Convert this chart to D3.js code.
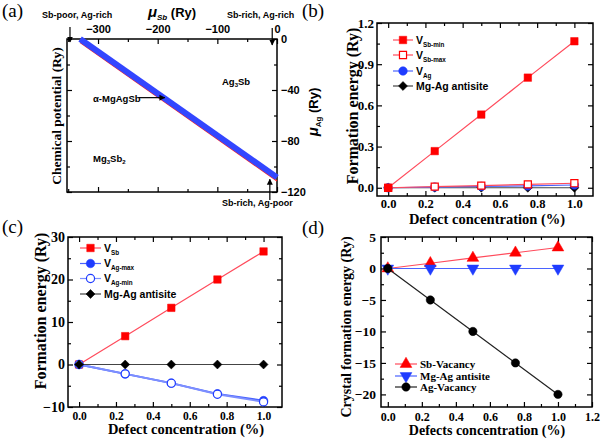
<!DOCTYPE html>
<html>
<head>
<meta charset="utf-8">
<script src="https://cdn.jsdelivr.net/npm/d3@7"></script>
<style>
  body { margin: 0; background: #fff; }
  svg { display: block; }
</style>
</head>
<body>
<div id="chart"></div>
<script>
// (a) chemical potential line, mu_Sb vs mu_Ag (Ry)
const bandMuSb = [-330, 0]
const bandMuAg = [0, -108.5]
const aXTicks = [-300, -200, -100, 0]
const aXMinor = [-350, -250, -150, -50]
const aYTicks = [0, -40, -80, -120]
const aYMinor = [-20, -60, -100]

// defect concentration (%) shared by b, c, d
const conc = [0, 0.25, 0.5, 0.75, 1.0]

// (b) formation energy (Ry)
const bVSbMin = [0, 0.267, 0.533, 0.802, 1.067]
const bVSbMax = [0, 0.008, 0.016, 0.025, 0.033]
const bVAg = [0, 0.005, 0.01, 0.014, 0.02]
const bAntisite = [0, 0, 0, 0, 0]
const bYTicks = [0, 0.3, 0.6, 0.9, 1.2]

// (c) formation energy (Ry)
const cVSb = [0, 6.67, 13.33, 20.0, 26.6]
const cVAgMax = [0, -2.2, -4.4, -6.9, -8.5]
const cVAgMin = [0, -2.2, -4.4, -7.0, -8.8]
const cAntisite = [0, 0, 0, 0, 0]
const cYTicks = [-10, 0, 10, 20, 30]

// (d) crystal formation energy (Ry)
const dSbVac = [0, 0.83, 1.67, 2.5, 3.33]
const dAntisite = [0, 0, 0, 0, 0]
const dAgVac = [0, -5, -10, -15, -20]
const dYTicks = [-20, -15, -10, -5, 0, 5]

const xTicks1 = [0, 0.2, 0.4, 0.6, 0.8, 1.0]
const xTicks12 = [0, 0.2, 0.4, 0.6, 0.8, 1.0, 1.2]

const SERIF = "'Liberation Serif','Times New Roman',serif"
const SANS = "'Liberation Sans',Arial,sans-serif"
const RED = "#ff0000", RED_LINE = "#ff4b5c"
const BLUE = "#1f3cff", BLUE_LINE = "#4a63ff"

const svg = d3.select("#chart").append("svg").attr("width", 602).attr("height", 443)

const minorOf = (ticks) => {
  const out = []
  for (let i = 0; i < ticks.length - 1; i++) out.push((ticks[i] + ticks[i + 1]) / 2)
  return out
}

// box with inward ticks on all four sides
function drawFrame(x, y, opt) {
  const [x0, x1] = x.range()
  const [y0, y1] = y.range()
  const g = svg.append("g")
  const sides = [
    { axis: d3.axisBottom, scale: x, t: `translate(0,${y0})`, pos: "bottom" },
    { axis: d3.axisTop, scale: x, t: `translate(0,${y1})`, pos: "top" },
    { axis: d3.axisLeft, scale: y, t: `translate(${x0},0)`, pos: "left" },
    { axis: d3.axisRight, scale: y, t: `translate(${x1},0)`, pos: "right" }
  ]
  sides.forEach((s) => {
    const isX = s.pos === "bottom" || s.pos === "top"
    const major = isX ? opt.xMajor : opt.yMajor
    const minor = isX ? opt.xMinor : opt.yMinor
    const labeled = opt.labelSides.includes(s.pos)
    const fmt = isX ? opt.xFmt : opt.yFmt
    g.append("g").attr("transform", s.t)
      .call(s.axis(s.scale).tickValues(minor).tickSize(-3).tickFormat(""))
      .call((a) => a.select(".domain").remove())
    const ax = g.append("g").attr("transform", s.t)
      .call(s.axis(s.scale).tickValues(major).tickSize(-5)
        .tickPadding(labeled ? (isX ? opt.xPad : opt.yPad) : 0)
        .tickFormat(labeled ? fmt : ""))
    ax.select(".domain").remove()
    ax.selectAll("text")
      .attr("font-family", opt.font).attr("font-size", isX ? opt.xSize : opt.ySize)
      .attr("font-weight", "bold").attr("fill", "#000")
  })
  g.selectAll("line").attr("stroke", "#000").attr("stroke-width", 1.2)
  g.append("rect")
    .attr("x", x0).attr("y", y1).attr("width", x1 - x0).attr("height", y0 - y1)
    .attr("fill", "none").attr("stroke", "#000").attr("stroke-width", 1.5)
}

function symbolPath(kind, size) {
  const t = { square: d3.symbolSquare, circle: d3.symbolCircle, diamond: d3.symbolSquare, up: d3.symbolTriangle, down: d3.symbolTriangle }[kind]
  return d3.symbol().type(t).size(size)()
}
function symbolRot(kind) {
  return kind === "diamond" ? 45 : kind === "down" ? 180 : 0
}

function drawSeries(x, y, xs, ys, s) {
  const line = d3.line().x((d, i) => x(xs[i])).y((d) => y(d))
  svg.append("path").datum(ys).attr("d", line)
    .attr("fill", "none").attr("stroke", s.line).attr("stroke-width", s.lw || 1.2)
  svg.append("g").selectAll("path").data(ys).join("path")
    .attr("d", symbolPath(s.kind, s.size))
    .attr("transform", (d, i) => `translate(${x(xs[i])},${y(d)}) rotate(${symbolRot(s.kind)})`)
    .attr("fill", s.open ? "#fff" : s.color)
    .attr("stroke", s.color).attr("stroke-width", s.open ? 1.2 : 0.5)
}

function drawLegend(items, lx0, lx1, ys, font, fsize) {
  items.forEach((s, i) => {
    const g = svg.append("g")
    g.append("line").attr("x1", lx0).attr("x2", lx1).attr("y1", ys[i]).attr("y2", ys[i])
      .attr("stroke", s.line).attr("stroke-width", 1.2)
    g.append("path").attr("d", symbolPath(s.kind, s.size))
      .attr("transform", `translate(${(lx0 + lx1) / 2},${ys[i]}) rotate(${symbolRot(s.kind)})`)
      .attr("fill", s.open ? "#fff" : s.color)
      .attr("stroke", s.color).attr("stroke-width", s.open ? 1.2 : 0.5)
    const t = g.append("text").attr("x", lx1 + 3).attr("y", ys[i] + fsize * 0.36)
      .attr("font-family", font).attr("font-size", fsize).attr("font-weight", "bold")
    t.append("tspan").text(s.name)
    if (s.sub) t.append("tspan").attr("font-size", fsize * 0.6).attr("dy", 3).text(s.sub)
  })
}

function text(x, y, str, o = {}) {
  return svg.append("text").attr("x", x).attr("y", y).text(str)
    .attr("font-family", o.font || SERIF).attr("font-size", o.size || 14)
    .attr("font-weight", o.weight || "bold").attr("text-anchor", o.anchor || "start")
}
function vtext(cx, cy, str, o = {}) {
  return text(0, 0, str, Object.assign({ anchor: "middle" }, o))
    .attr("transform", `translate(${cx},${cy}) rotate(-90)`)
}

// ---------- (a) ----------
{
  const x = d3.scaleLinear().domain([-352, 0]).range([67, 277])
  const y = d3.scaleLinear().domain([-120, 0]).range([192, 39])
  drawFrame(x, y, {
    xMajor: aXTicks, xMinor: aXMinor, yMajor: aYTicks, yMinor: aYMinor,
    labelSides: ["top", "right"], xFmt: d3.format("d"), yFmt: d3.format("d"),
    font: SANS, xSize: 11, ySize: 11, xPad: 6, yPad: 4
  })
  const pts = bandMuSb.map((v, i) => [x(v), y(bandMuAg[i])])
  svg.append("path").datum(pts).attr("d", d3.line())
    .attr("transform", "translate(0,3.6)")
    .attr("stroke", "#ff2020").attr("stroke-width", 1.2).attr("fill", "none")
  svg.append("path").datum(pts).attr("d", d3.line())
    .attr("stroke", "#3346ff").attr("stroke-width", 6).attr("fill", "none")

  const defs = svg.append("defs")
  defs.append("marker").attr("id", "ah").attr("viewBox", "0 0 10 10").attr("refX", 9).attr("refY", 5)
    .attr("markerWidth", 5).attr("markerHeight", 6).attr("orient", "auto")
    .append("path").attr("d", "M0,0 L10,5 L0,10 z").attr("fill", "#000")
  const arrow = (x1, y1, x2, y2) => svg.append("line")
    .attr("x1", x1).attr("y1", y1).attr("x2", x2).attr("y2", y2)
    .attr("stroke", "#000").attr("stroke-width", 1.2).attr("marker-end", "url(#ah)")

  arrow(x(-347), 27, x(-347), y(0) + 3)
  arrow(x(-8), 28, x(-8), y(0) + 6)
  arrow(x(-12), 200, x(-12), y(-110))
  arrow(139, y(-46), x(-188), y(-46))

  const small = { font: SANS, size: 9, weight: "bold" }
  text(42, 18, "Sb-poor, Ag-rich", small)
  text(227, 18, "Sb-rich, Ag-rich", small)
  text(222, 206, "Sb-rich, Ag-poor", small)
  text(93, 102, "α-MgAgSb", Object.assign({}, small, { size: 9.5 }))
  const ag = text(222, 85, "Ag", Object.assign({}, small, { size: 9.5 }))
  ag.append("tspan").attr("font-size", 6).attr("dy", 2).text("3")
  ag.append("tspan").attr("dy", -2).text("Sb")
  const mg = text(93, 162, "Mg", Object.assign({}, small, { size: 9.5 }))
  mg.append("tspan").attr("font-size", 6).attr("dy", 2).text("3")
  mg.append("tspan").attr("dy", -2).text("Sb")
  mg.append("tspan").attr("font-size", 6).attr("dy", 2).text("2")

  const tt = text(172, 17, "", { font: SANS, size: 13, anchor: "middle" })
  tt.append("tspan").attr("font-style", "italic").attr("font-size", 15).text("μ")
  tt.append("tspan").attr("font-style", "italic").attr("font-size", 8).attr("dy", 3).text("Sb")
  tt.append("tspan").attr("dy", -3).text(" (Ry)")

  vtext(61, 116, "Chemical potential (Ry)", { size: 13.5 })
  const rt = vtext(318, 112, "", { font: SANS, size: 13 })
  rt.append("tspan").attr("font-style", "italic").attr("font-size", 15).text("μ")
  rt.append("tspan").attr("font-size", 8).attr("dy", 3).text("Ag")
  rt.append("tspan").attr("dy", -3).text(" (Ry)")

  text(2, 17, "(a)", { size: 19, weight: "normal" })
}

// ---------- (b) ----------
{
  const x = d3.scaleLinear().domain([-0.06, 1.1]).range([377, 593])
  const y = d3.scaleLinear().domain([-0.06, 1.2]).range([196, 23])
  drawFrame(x, y, {
    xMajor: xTicks1, xMinor: minorOf(xTicks1), yMajor: bYTicks, yMinor: minorOf(bYTicks),
    labelSides: ["bottom", "left"], xFmt: d3.format(".1f"), yFmt: d3.format(".1f"),
    font: SERIF, xSize: 12.5, ySize: 13, xPad: 3, yPad: 3
  })
  const series = [
    { name: "V", sub: "Sb-min", data: bVSbMin, kind: "square", size: 56, color: RED, line: RED_LINE },
    { name: "V", sub: "Sb-max", data: bVSbMax, kind: "square", size: 50, color: RED, line: RED_LINE, open: true },
    { name: "V", sub: "Ag", data: bVAg, kind: "circle", size: 58, color: BLUE, line: BLUE_LINE },
    { name: "Mg-Ag antisite", data: bAntisite, kind: "diamond", size: 40, color: "#000", line: "#444" }
  ]
  series.slice().reverse().forEach((s) => drawSeries(x, y, conc, s.data, s))
  drawLegend(series, 393, 413, [40, 55, 71, 86], SANS, 10.5)
  vtext(358, 106, "Formation energy (Ry)", { size: 16 })
  text(487, 224, "Defect concentration (%)", { size: 14.5, anchor: "middle" })
  text(302, 17, "(b)", { size: 19, weight: "normal" })
}

// ---------- (c) ----------
{
  const x = d3.scaleLinear().domain([-0.06, 1.1]).range([68, 282])
  const y = d3.scaleLinear().domain([-10, 30]).range([407, 237])
  drawFrame(x, y, {
    xMajor: xTicks1, xMinor: minorOf(xTicks1), yMajor: cYTicks, yMinor: minorOf(cYTicks),
    labelSides: ["bottom", "left"], xFmt: d3.format(".1f"), yFmt: d3.format("d"),
    font: SERIF, xSize: 11.5, ySize: 14, xPad: 5, yPad: 3
  })
  const series = [
    { name: "V", sub: "Sb", data: cVSb, kind: "square", size: 56, color: RED, line: RED_LINE },
    { name: "V", sub: "Ag-max", data: cVAgMax, kind: "circle", size: 58, color: BLUE, line: BLUE_LINE, lw: 1.8 },
    { name: "V", sub: "Ag-min", data: cVAgMin, kind: "circle", size: 52, color: BLUE, line: "#7d8fff", open: true, lw: 1.8 },
    { name: "Mg-Ag antisite", data: cAntisite, kind: "diamond", size: 40, color: "#000", line: "#444" }
  ]
  series.forEach((s) => drawSeries(x, y, conc, s.data, s))
  drawLegend(series, 80, 101, [248, 263.5, 278.5, 294], SANS, 10.5)
  vtext(46, 311, "Formation energy (Ry)", { size: 16 })
  text(186, 434, "Defect concentration (%)", { size: 14.5, anchor: "middle" })
  text(2, 233, "(c)", { size: 19, weight: "normal" })
}

// ---------- (d) ----------
{
  const x = d3.scaleLinear().domain([-0.04, 1.2]).range([381, 592])
  const y = d3.scaleLinear().domain([-22, 5]).range([407, 237])
  drawFrame(x, y, {
    xMajor: xTicks12, xMinor: minorOf(xTicks12), yMajor: dYTicks, yMinor: minorOf(dYTicks),
    labelSides: ["bottom", "left"], xFmt: d3.format(".1f"), yFmt: d3.format("d"),
    font: SERIF, xSize: 12, ySize: 13.5, xPad: 5, yPad: 5
  })
  const series = [
    { name: "Sb-Vacancy", data: dSbVac, kind: "up", size: 60, color: RED, line: RED_LINE },
    { name: "Mg-Ag antisite", data: dAntisite, kind: "down", size: 60, color: BLUE, line: BLUE_LINE },
    { name: "Ag-Vacancy", data: dAgVac, kind: "circle", size: 55, color: "#000", line: "#222" }
  ]
  series.forEach((s) => drawSeries(x, y, conc, s.data, s))
  drawLegend(series, 395, 417, [364, 376, 387], SERIF, 11)
  vtext(351, 327, "Crystal formation energy (Ry)", { size: 14 })
  text(487, 435, "Defects concentration (%)", { size: 14, anchor: "middle" })
  text(302, 234, "(d)", { size: 19, weight: "normal" })
}
</script>
</body>
</html>
